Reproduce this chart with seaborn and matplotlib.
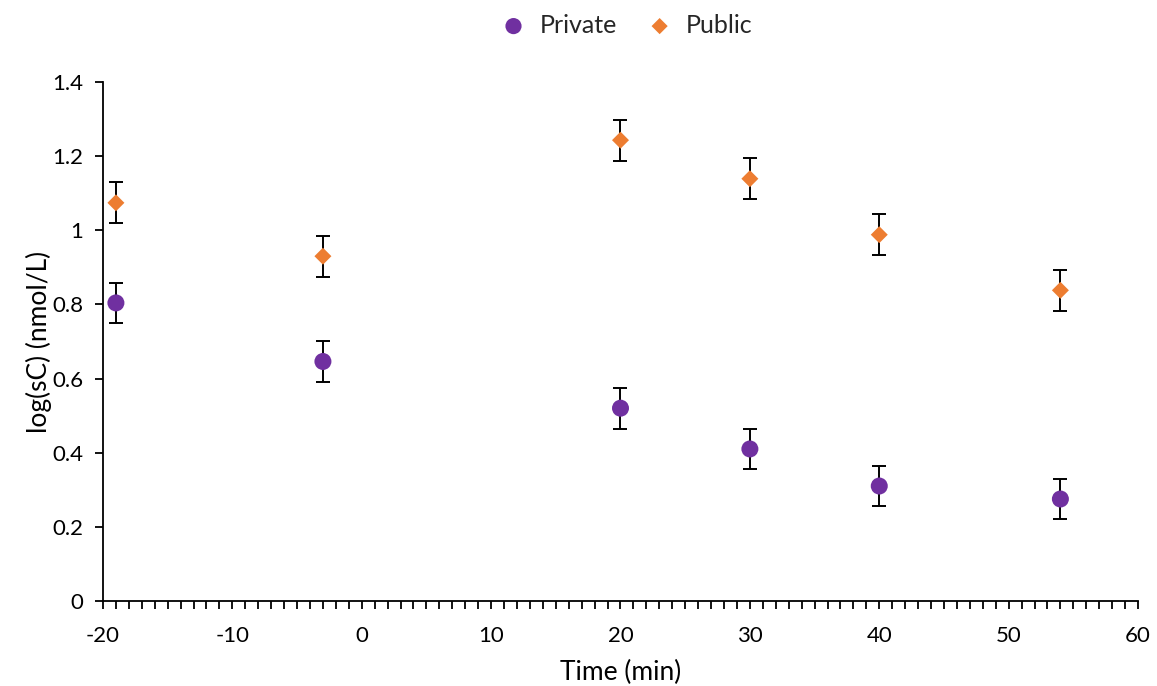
import matplotlib
matplotlib.use("Agg")
import matplotlib.pyplot as plt
import seaborn as sns
import pandas as pd
from matplotlib.ticker import MultipleLocator, FuncFormatter

# Measurement times (min) and log-transformed concentrations
times = [-19, -3, 20, 30, 40, 54]
private_vals = [0.804, 0.646, 0.520, 0.410, 0.310, 0.275]
public_vals = [1.074, 0.930, 1.243, 1.139, 0.988, 0.838]
private_err = [0.055, 0.055, 0.055, 0.055, 0.055, 0.055]
public_err = [0.055, 0.055, 0.055, 0.055, 0.055, 0.055]

groups = ["Private", "Public"]
colors = {"Private": "#7030A0", "Public": "#ED7D31"}
markers = {"Private": "o", "Public": "D"}
sizes = {"Private": 150, "Public": 75}

df = pd.DataFrame({
    "time": times * 2,
    "value": private_vals + public_vals,
    "err": private_err + public_err,
    "group": ["Private"] * len(times) + ["Public"] * len(times),
})

sns.set_style("white")
plt.rcParams["font.family"] = ["Lato", "DejaVu Sans"]
plt.rcParams["axes.unicode_minus"] = False

fig = plt.figure(figsize=(11.57, 6.86), dpi=100)
ax = fig.add_axes([0.089, 0.124, 0.8946, 0.7565])

for g in groups:
    sub = df[df["group"] == g]
    ax.errorbar(sub["time"], sub["value"], yerr=sub["err"], fmt="none",
                ecolor="black", elinewidth=1.4, capsize=5, capthick=1.4, zorder=2)
    sns.scatterplot(data=sub, x="time", y="value", ax=ax, color=colors[g],
                    marker=markers[g], s=sizes[g], edgecolor="none",
                    label=g, zorder=3)

ax.set_xlim(-20, 60)
ax.set_ylim(0, 1.4)
ax.xaxis.set_major_locator(MultipleLocator(10))
ax.xaxis.set_minor_locator(MultipleLocator(1))
ax.yaxis.set_major_locator(MultipleLocator(0.2))
ax.yaxis.set_major_formatter(FuncFormatter(lambda v, _: f"{v:.1f}".rstrip("0").rstrip(".") if v else "0"))

for side in ["top", "right"]:
    ax.spines[side].set_visible(False)
for side in ["left", "bottom"]:
    ax.spines[side].set_color("black")
    ax.spines[side].set_linewidth(1.3)

ax.tick_params(axis="both", which="major", direction="out", length=6, width=1.3,
               color="black", labelsize=16, labelcolor="black", bottom=True, left=True)
ax.tick_params(axis="x", which="major", pad=12)
ax.tick_params(axis="x", which="minor", direction="out", length=6, width=1.3,
               color="black", bottom=True)
ax.tick_params(axis="y", which="major", pad=8)

ax.set_xlabel("Time (min)", fontsize=19, labelpad=10, color="black")
ax.set_ylabel("log(sC) (nmol/L)", fontsize=19, labelpad=0, color="black")

ax.legend(loc="upper center", bbox_to_anchor=(0.5, 1.175), ncol=2, frameon=False,
          fontsize=18, handletextpad=0.05, columnspacing=0.7, markerscale=0.95)

fig.savefig("out.png", dpi=100)
